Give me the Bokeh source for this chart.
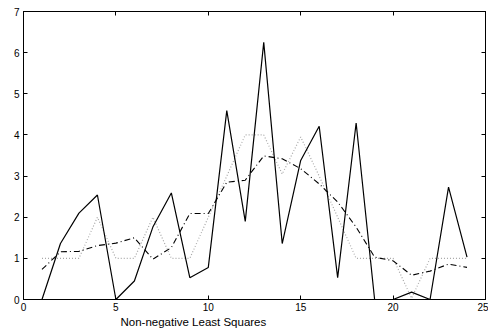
from bokeh.plotting import figure
from bokeh.models import FixedTicker, LinearAxis, Title, Range1d
from bokeh.embed import file_html
from bokeh.resources import INLINE

x = list(range(1, 25))
solid = [0.0, 1.36, 2.10, 2.54, 0.0, 0.45, 1.76, 2.59, 0.53, 0.78, 4.59, 1.90,
         6.25, 1.36, 3.38, 4.21, 0.53, 4.29, 0.0, 0.0, 0.18, 0.0, 2.73, 1.03]
dotted = [1, 1, 1, 2, 1, 1, 2, 1, 1, 2, 3, 4,
          4, 3.05, 3.95, 3, 2, 1, 1, 1, 0.03, 1, 1, 1]
dashdot = [0.73, 1.16, 1.17, 1.31, 1.37, 1.50, 0.98, 1.26, 2.09, 2.09, 2.85, 2.90,
           3.49, 3.42, 3.18, 2.81, 2.37, 1.76, 1.03, 0.94, 0.59, 0.69, 0.86, 0.78]
x_ticks = [0, 5, 10, 15, 20, 25]
y_ticks = [0, 1, 2, 3, 4, 5, 6, 7]
x_label = "Non-negative Least Squares"

FONT = "Liberation Sans"

p = figure(width=488, height=331, output_backend="svg", toolbar_location=None,
           x_range=Range1d(0, 25), y_range=Range1d(0, 7),
           min_border_left=23, min_border_right=3, min_border_top=11, min_border_bottom=32)
p.grid.visible = False
p.outline_line_color = "black"
p.outline_line_width = 1
p.background_fill_color = "white"
p.border_fill_color = "white"

for ax in (p.xaxis[0], p.yaxis[0]):
    ax.major_tick_in = 4
    ax.major_tick_out = 0
    ax.minor_tick_line_color = None
    ax.axis_line_color = "black"
    ax.axis_line_width = 1
    ax.major_tick_line_color = "black"
    ax.major_label_text_font = FONT
    ax.major_label_text_font_size = "10px"
    ax.major_label_text_color = "black"
p.xaxis[0].ticker = FixedTicker(ticks=x_ticks)
p.yaxis[0].ticker = FixedTicker(ticks=y_ticks)
p.xaxis[0].major_label_standoff = 3
p.yaxis[0].major_label_standoff = 4

top = LinearAxis(ticker=FixedTicker(ticks=x_ticks))
right = LinearAxis(ticker=FixedTicker(ticks=y_ticks))
for ax in (top, right):
    ax.major_tick_in = 4
    ax.major_tick_out = 0
    ax.minor_tick_line_color = None
    ax.axis_line_color = "black"
    ax.major_label_text_font_size = "0px"
    ax.major_label_standoff = 0
    ax.major_label_text_alpha = 0
p.add_layout(top, "above")
p.add_layout(right, "right")

p.line(x, dotted, line_color="#a8a8a8", line_width=1.2, line_dash="1 2")
p.line(x, dashdot, line_color="black", line_width=1.1, line_dash="6 3 1 3")
p.line(x, solid, line_color="black", line_width=1.2)

t = Title(text=x_label, align="left", offset=97, standoff=0,
          text_font=FONT, text_font_size="11.5px", text_font_style="normal",
          text_color="black")
p.add_layout(t, "below")

open("out.html", "w").write(file_html(p, INLINE))
